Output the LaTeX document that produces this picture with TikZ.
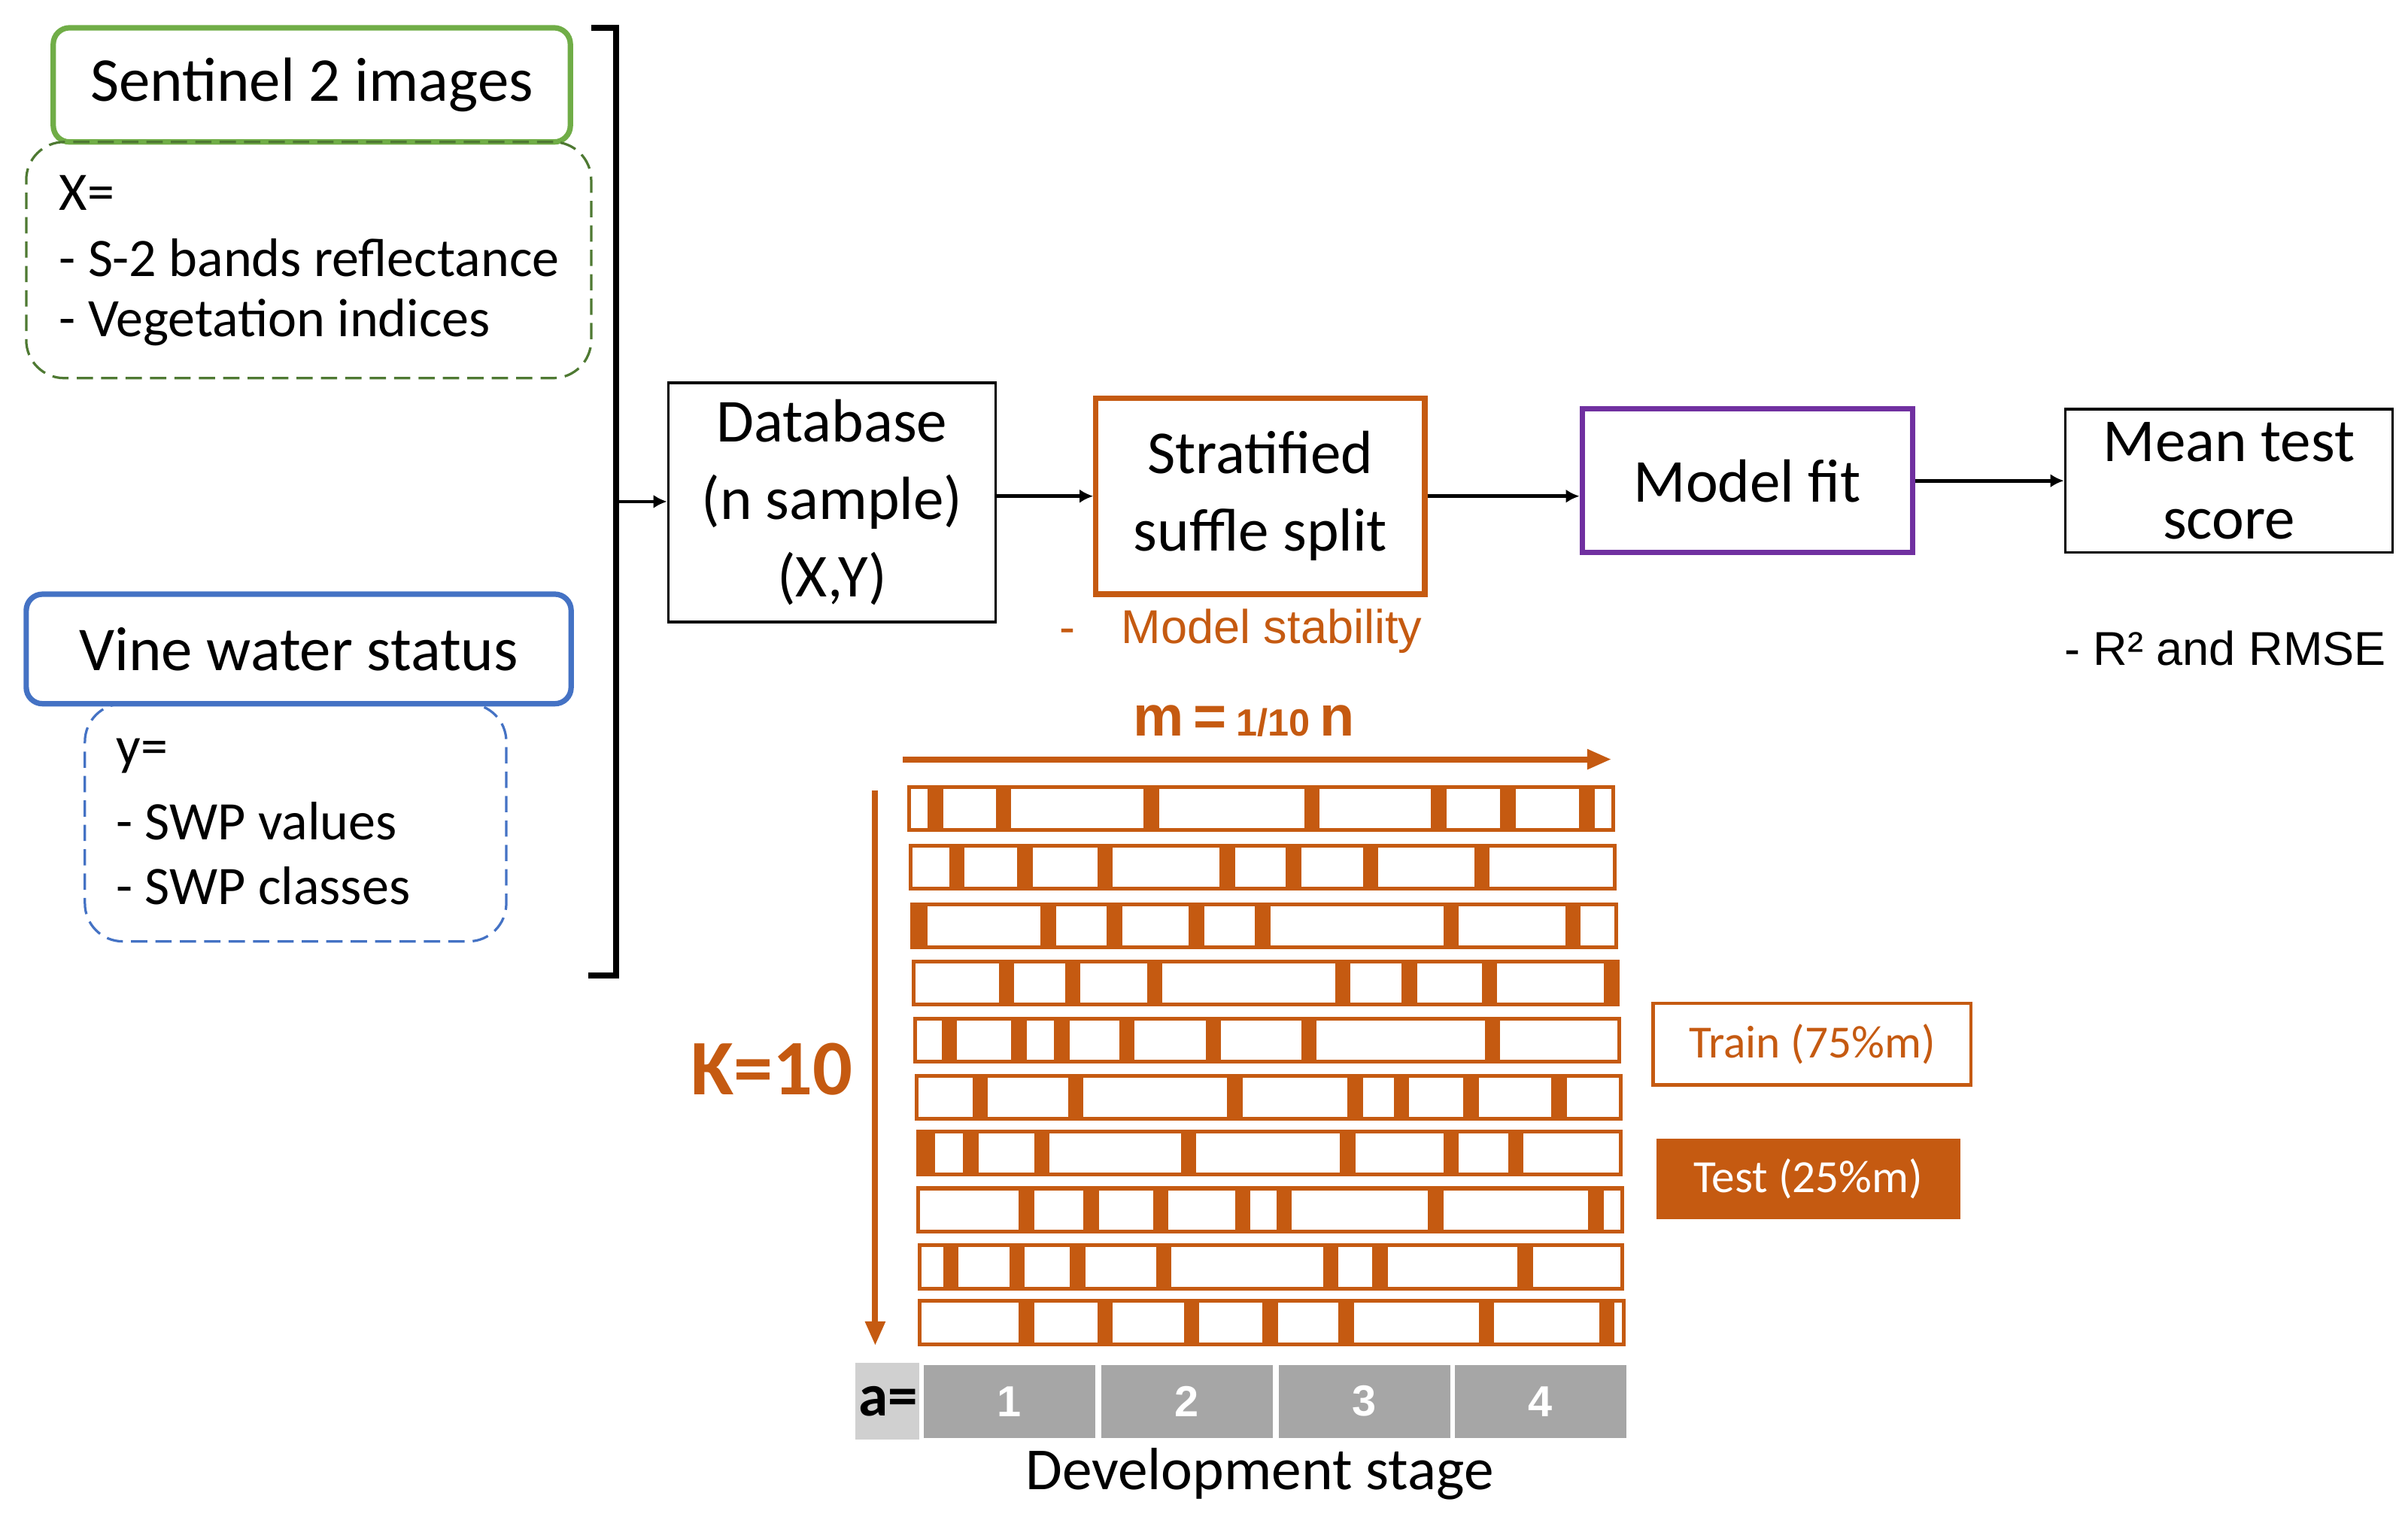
\documentclass[tikz,border=0pt]{standalone}
\usepackage{fontspec}
\setmainfont{Carlito}
\newfontfamily\arialf{Liberation Sans}
\usetikzlibrary{arrows.meta}
\definecolor{org}{HTML}{C55A11}
\definecolor{grn}{HTML}{70AD47}
\definecolor{blu}{HTML}{4472C4}
\definecolor{pur}{HTML}{7030A0}
\definecolor{gcell}{HTML}{A6A6A6}
\definecolor{gA}{HTML}{D0D0D0}
\tikzset{
 box/.style={draw,line width=1pt,align=center,inner sep=0pt,font=\fontsize{22.5}{28.5}\selectfont},
 title/.style={draw,line width=2pt,rounded corners=6pt,inner sep=0pt,font=\fontsize{23}{26}\selectfont},
 dbox/.style={draw,dash pattern=on 6pt off 3pt,line width=0.9pt,rounded corners=14pt,inner sep=0pt},
 lst/.style={anchor=west,font=\fontsize{20}{22}\selectfont,inner sep=0pt},
 arr/.style={-{Latex[length=5pt,width=5pt]},line width=1.3pt},
 oarr/.style={-{Triangle[length=9pt,width=7pt]},line width=2.2pt,org},
}
\begin{document}
\begin{tikzpicture}[x=0.02cm,y=-0.02cm]
\useasboundingbox (0,0) rectangle (1560,981);
% left column
\node[title,grn,minimum width=335*0.02cm,minimum height=74*0.02cm,text=black] (s2) at (202,55) {Sentinel 2 images};
\node[dbox,grn!70!black,minimum width=366*0.02cm,minimum height=153*0.02cm] (xb) at (200,168.5) {};
\node[lst] (x1) at (38,125) {X=};
\node[lst] (x2) at (38,167) {- S-2 bands reflectance};
\node[lst] (x3) at (38,209) {- Vegetation indices};
\node[title,blu,minimum width=353*0.02cm,minimum height=71*0.02cm,text=black] (vw) at (193.5,420.5) {Vine water status};
\node[dbox,blu,minimum width=273*0.02cm,minimum height=154*0.02cm] (yb) at (191.5,533) {};
\node[lst] (y1) at (75,490) {y=};
\node[lst] (y2) at (75,532) {- SWP values};
\node[lst] (y3) at (75,574) {- SWP classes};
% bracket
\coordinate (bt) at (383,18); \coordinate (bb) at (381,632);
\coordinate (bm) at (399,325);
\draw[line width=2.2pt] (bt) -| (bm) |- (bb);
% pipeline
\node[box,minimum width=212*0.02cm,minimum height=155*0.02cm] (db) at (539,325.5) {Database\\(n sample)\\(X,Y)};
\node[box,org,line width=2pt,text=black,minimum width=213*0.02cm,minimum height=127*0.02cm] (ss) at (816.5,321.5) {Stratified\\suffle split};
\node[box,pur,line width=2pt,text=black,minimum width=214*0.02cm,minimum height=93*0.02cm] (mf) at (1132,311.5) {Model fit};
\node[box,minimum width=212*0.02cm,minimum height=93*0.02cm] (mt) at (1444,311.5) {Mean test\\score};
\draw[arr] (bm) -- (db.west|-bm);
\draw[arr] (db.east|-ss) -- (ss.west);
\draw[arr] (ss.east) -- (mf.west|-ss);
\draw[arr] (mf.east) -- (mt.west);
\node[anchor=west,inner sep=0pt,text=org,font=\arialf\fontsize{17.5}{20}\selectfont] (ms) at (686,409) {-\hspace{17pt}Model stability};
\node[anchor=west,inner sep=0pt,font=\arialf\fontsize{17.5}{20}\selectfont] (r2) at (1337,420) {- R² and RMSE};
% m arrow & K
\node[text=org,font=\arialf\bfseries\fontsize{21}{24}\selectfont,inner sep=0pt] (m) at (806,467) {m\,=\,{\fontsize{14}{16}\selectfont 1/10}\,n};
\coordinate (ma) at (585,492); \coordinate (mb) at (1044,492);
\draw[oarr] (ma) -- (mb);
\coordinate (ka) at (567,512); \coordinate (kb) at (567,872);
\draw[oarr] (ka) -- (kb);
\node[text=org,font=\bfseries\fontsize{29}{30}\selectfont,inner sep=0pt] (k) at (500,693) {K=10};
% rows
\foreach \y/\xl/\xr/\s in {
 524/589/1045/{606,650,746,850,932,977,1028},
 562/590/1046/{620,664,716,795,838,888,960},
 600/591/1047/{596,679,722,775,818,940,1019},
 637/592/1048/{652,695,748,870,913,965,1044},
 674/593/1049/{615,660,688,730,786,848,967},
 711/594/1050/{635,697,800,878,908,953,1010},
 747/595/1050/{601,629,675,770,873,940,982},
 784/595/1051/{665,707,752,805,832,930,1034},
 821/596/1051/{616,659,698,754,862,894,988},
 857/596/1052/{665,716,772,823,872,963,1041}}{
 \draw[org,line width=1.4pt] (\xl,\y-14) rectangle (\xr,\y+14);
 \foreach \sx in \s {\fill[org] (\sx-5,\y-14) rectangle (\sx+5,\y+14);}
}
% legend
\node[draw=org,line width=1.2pt,text=org,minimum width=206*0.02cm,minimum height=53*0.02cm,inner sep=0pt,font=\fontsize{17}{20}\selectfont] (tr) at (1174,676.5) {Train (75\%m)};
\node[fill=org,text=white,minimum width=197*0.02cm,minimum height=52*0.02cm,inner sep=0pt,font=\fontsize{17}{20}\selectfont] (te) at (1171.5,764) {Test (25\%m)};
% development stage
\node[fill=gA,minimum width=43*0.02cm,minimum height=50*0.02cm,inner sep=0pt,font=\bfseries\fontsize{22}{24}\selectfont] (a) at (575.5,908) {a=};
\foreach \i/\cx in {1/654,2/769,3/884,4/998}{
 \node[fill=gcell,draw=white,line width=1.5pt,minimum width=114*0.02cm,minimum height=50*0.02cm,inner sep=0pt,text=white,font=\arialf\bfseries\fontsize{16}{18}\selectfont] (c\i) at (\cx,908) {\i};
}
\node[inner sep=0pt,font=\fontsize{22}{24}\selectfont] (dev) at (816,955) {Development stage};
\end{tikzpicture}
\end{document}
